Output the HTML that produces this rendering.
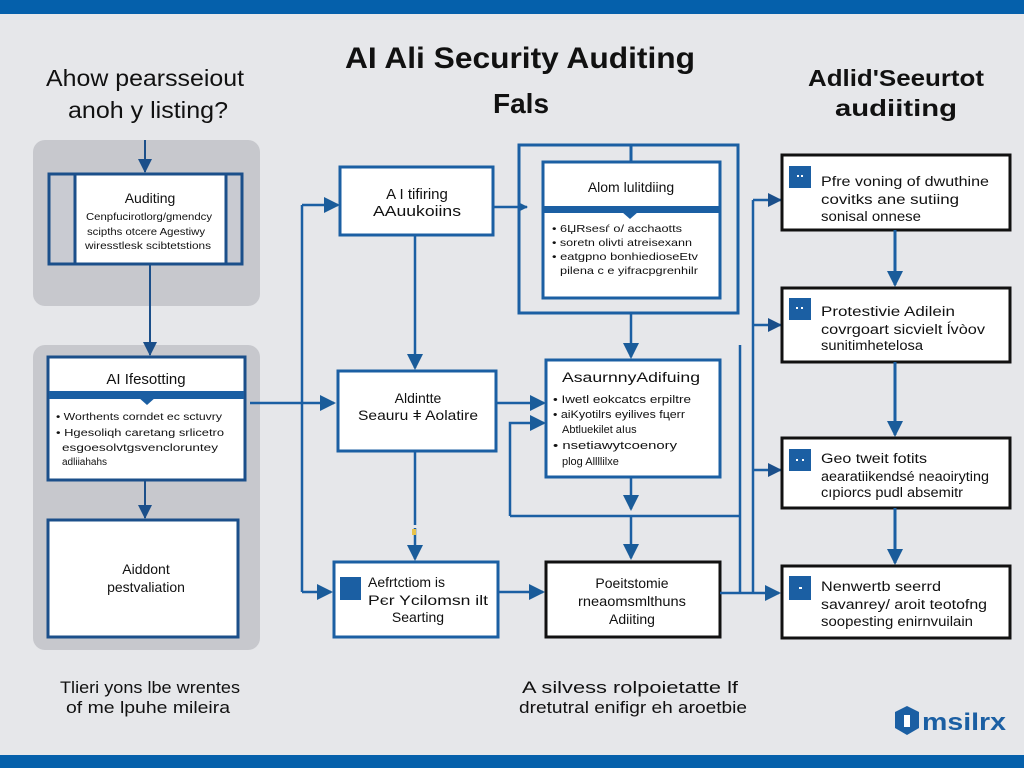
<!DOCTYPE html>
<html><head><meta charset="utf-8"><style>
html,body{margin:0;padding:0;background:#e6e7ea;}
svg{display:block}
text{font-family:"Liberation Sans",sans-serif;fill:#111}
</style></head><body>
<svg width="1024" height="768" viewBox="0 0 1024 768" xmlns="http://www.w3.org/2000/svg">
<defs>
<marker id="a" markerWidth="8" markerHeight="8" refX="7" refY="4" orient="auto" markerUnits="userSpaceOnUse" viewBox="0 0 8 8"><path d="M0,0 L8,4 L0,8 z" fill="#1a5c9a"/></marker>
<marker id="c" markerWidth="14" markerHeight="14" refX="13" refY="7" orient="auto" markerUnits="userSpaceOnUse" viewBox="0 0 14 14"><path d="M0,0 L14,7 L0,14 z" fill="#1b4f8a"/></marker>
<marker id="b" markerWidth="16" markerHeight="16" refX="14" refY="8" orient="auto" markerUnits="userSpaceOnUse" viewBox="0 0 16 16"><path d="M0,0 L16,8 L0,16 z" fill="#1a5c9a"/></marker>
</defs>
<rect width="1024" height="768" fill="#e6e7ea"/>
<rect x="0" y="0" width="1024" height="14" fill="#0560ab"/>
<rect x="0" y="755" width="1024" height="13" fill="#0560ab"/>

<text x="520" y="68" font-size="30" text-anchor="middle" font-weight="bold" textLength="350" lengthAdjust="spacingAndGlyphs">AI Ali Security Auditing</text>
<text x="521" y="113" font-size="28" text-anchor="middle" font-weight="bold">Fals</text>
<text x="145" y="86" font-size="23" text-anchor="middle" textLength="198" lengthAdjust="spacingAndGlyphs">Ahow pearsseiout</text>
<text x="148" y="118" font-size="23" text-anchor="middle" textLength="160" lengthAdjust="spacingAndGlyphs">anoh y listing?</text>
<text x="896" y="86" font-size="23" text-anchor="middle" font-weight="bold" textLength="176" lengthAdjust="spacingAndGlyphs">Adlid'Seeurtot</text>
<text x="896" y="116" font-size="23" text-anchor="middle" font-weight="bold" textLength="122" lengthAdjust="spacingAndGlyphs">audiiting</text>

<rect x="33" y="140" width="227" height="166" rx="12" fill="#c7c8cd"/>
<rect x="33" y="345" width="227" height="305" rx="12" fill="#c7c8cd"/>

<rect x="49" y="174" width="193" height="90" fill="#c9cbd2" stroke="#1b4f8a" stroke-width="3"/>
<rect x="75" y="174" width="151" height="90" fill="#fff" stroke="#1b4f8a" stroke-width="3"/>
<text x="150" y="203" font-size="14" text-anchor="middle">Auditing</text>
<text x="149" y="220" font-size="10.5" text-anchor="middle" textLength="126" lengthAdjust="spacingAndGlyphs">Cenpfucirotlorg/gmendcy</text>
<text x="146" y="235" font-size="10.5" text-anchor="middle" textLength="118" lengthAdjust="spacingAndGlyphs">scipths otcere Agestiwy</text>
<text x="148" y="249" font-size="10.5" text-anchor="middle" textLength="126" lengthAdjust="spacingAndGlyphs">wiresstlesk scibtetstions</text>
<line x1="145" y1="140" x2="145" y2="172" stroke="#1b4f8a" stroke-width="2" marker-end="url(#c)"/>
<line x1="150" y1="264" x2="150" y2="355" stroke="#1b4f8a" stroke-width="2" marker-end="url(#c)"/>

<rect x="48" y="357" width="197" height="123" fill="#fff" stroke="#1b4f8a" stroke-width="3"/>
<text x="146" y="384" font-size="15" text-anchor="middle">AI Ifesotting</text>
<rect x="49" y="391" width="195" height="8" fill="#1b5fa3"/>
<path d="M138,397 L147,405 L156,397 z" fill="#1b5fa3"/>
<text x="56" y="420" font-size="10" textLength="166" lengthAdjust="spacingAndGlyphs">• Worthents corndet ec sctuvry</text>
<text x="56" y="436" font-size="10" textLength="168" lengthAdjust="spacingAndGlyphs">• Hgesoliqh caretang srlicetro</text>
<text x="62" y="451" font-size="10" textLength="156" lengthAdjust="spacingAndGlyphs">esgoesolvtgsvencloruntey</text>
<text x="62" y="465" font-size="10">adliiahahs</text>
<line x1="145" y1="480" x2="145" y2="518" stroke="#1b4f8a" stroke-width="2" marker-end="url(#c)"/>

<rect x="48" y="520" width="190" height="117" fill="#fff" stroke="#1b4f8a" stroke-width="3"/>
<text x="146" y="574" font-size="14" text-anchor="middle">Aiddont</text>
<text x="146" y="592" font-size="14" text-anchor="middle">pestvaliation</text>

<line x1="302" y1="592" x2="302" y2="205" stroke="#1b5fa3" stroke-width="2.5"/>
<line x1="302" y1="205" x2="338" y2="205" stroke="#1b5fa3" stroke-width="2.5" marker-end="url(#b)"/>
<line x1="302" y1="592" x2="331" y2="592" stroke="#1b5fa3" stroke-width="2.5" marker-end="url(#b)"/>
<line x1="250" y1="403" x2="334" y2="403" stroke="#1b5fa3" stroke-width="2.5" marker-end="url(#b)"/>

<rect x="340" y="167" width="153" height="68" fill="#fff" stroke="#1b5fa3" stroke-width="3"/>
<text x="417" y="199" font-size="15" text-anchor="middle">A I tifiring</text>
<text x="417" y="216" font-size="15" text-anchor="middle" textLength="88" lengthAdjust="spacingAndGlyphs">AAuukoiins</text>
<line x1="415" y1="235" x2="415" y2="368" stroke="#1b5fa3" stroke-width="2.5" marker-end="url(#b)"/>

<rect x="338" y="371" width="158" height="80" fill="#fff" stroke="#1b5fa3" stroke-width="3"/>
<text x="418" y="403" font-size="14" text-anchor="middle">Aldintte</text>
<text x="418" y="420" font-size="14" text-anchor="middle" textLength="120" lengthAdjust="spacingAndGlyphs">Seauru ǂ Aolatire</text>
<line x1="415" y1="451" x2="415" y2="525" stroke="#1b5fa3" stroke-width="2.5"/>
<line x1="415" y1="528" x2="415" y2="559" stroke="#1b5fa3" stroke-width="2.5" marker-end="url(#b)"/>
<rect x="412" y="529" width="4" height="6" fill="#e8c34a"/>

<rect x="334" y="562" width="164" height="75" fill="#fff" stroke="#1b5fa3" stroke-width="3"/>
<rect x="340" y="577" width="21" height="23" fill="#1b5fa3"/>
<text x="368" y="587" font-size="14">Aefrtctiom is</text>
<text x="368" y="605" font-size="14" textLength="120" lengthAdjust="spacingAndGlyphs">Pєr Ycilomsn ilt</text>
<text x="418" y="622" font-size="14" text-anchor="middle">Searting</text>
<line x1="498" y1="592" x2="543" y2="592" stroke="#1b5fa3" stroke-width="2.5" marker-end="url(#b)"/>

<line x1="493" y1="207" x2="527" y2="207" stroke="#1b5fa3" stroke-width="2.5" marker-end="url(#a)"/>
<rect x="519" y="145" width="219" height="168" fill="none" stroke="#1b5fa3" stroke-width="3"/>
<line x1="631" y1="145" x2="631" y2="162" stroke="#1b5fa3" stroke-width="3"/>
<rect x="543" y="162" width="177" height="136" fill="#fff" stroke="#1b5fa3" stroke-width="3"/>
<text x="631" y="192" font-size="14" text-anchor="middle">Alom lulitdiing</text>
<rect x="544" y="206" width="175" height="7" fill="#1b5fa3"/>
<path d="M622,212 L630,219 L638,212 z" fill="#1b5fa3"/>
<text x="552" y="232" font-size="10.5" textLength="130" lengthAdjust="spacingAndGlyphs">• 6ЏRsesѓ o/ acchaotts</text>
<text x="552" y="246" font-size="10.5" textLength="140" lengthAdjust="spacingAndGlyphs">• soretn olivti atreisexann</text>
<text x="552" y="260" font-size="10.5" textLength="146" lengthAdjust="spacingAndGlyphs">• eatgpno bonhiedioseEtv</text>
<text x="560" y="274" font-size="10.5" textLength="138" lengthAdjust="spacingAndGlyphs">pilena c e yifracpgrenhilr</text>
<line x1="631" y1="313" x2="631" y2="357" stroke="#1b5fa3" stroke-width="2.5" marker-end="url(#b)"/>

<line x1="496" y1="403" x2="544" y2="403" stroke="#1b5fa3" stroke-width="2.5" marker-end="url(#b)"/>
<polyline points="510,516 510,423 544,423" fill="none" stroke="#1b5fa3" stroke-width="2.5" marker-end="url(#b)"/>
<polyline points="510,516 740,516" fill="none" stroke="#1b5fa3" stroke-width="2.5"/>
<line x1="740" y1="345" x2="740" y2="592" stroke="#1b5fa3" stroke-width="2.5"/>

<rect x="546" y="360" width="174" height="117" fill="#fff" stroke="#1b5fa3" stroke-width="3"/>
<text x="631" y="382" font-size="13.5" text-anchor="middle" textLength="138" lengthAdjust="spacingAndGlyphs">AsaurnnyAdifuing</text>
<text x="553" y="403" font-size="11" textLength="138" lengthAdjust="spacingAndGlyphs">• Iwetl eokcatcs erpiltre</text>
<text x="553" y="418" font-size="11" textLength="132" lengthAdjust="spacingAndGlyphs">• aiKyotilrs eyilives fцеrr</text>
<text x="562" y="433" font-size="11">Abtluekilet aIus</text>
<text x="553" y="449" font-size="11" textLength="124" lengthAdjust="spacingAndGlyphs">• nsetiawytcoenory</text>
<text x="562" y="465" font-size="11">plog Allllilxe</text>
<line x1="631" y1="477" x2="631" y2="509" stroke="#1b5fa3" stroke-width="2.5" marker-end="url(#b)"/>
<line x1="631" y1="516" x2="631" y2="558" stroke="#1b5fa3" stroke-width="2.5" marker-end="url(#b)"/>

<rect x="546" y="562" width="174" height="75" fill="#fff" stroke="#111" stroke-width="3"/>
<text x="632" y="588" font-size="14" text-anchor="middle">Poeitstomie</text>
<text x="632" y="606" font-size="14" text-anchor="middle" textLength="108" lengthAdjust="spacingAndGlyphs">rneaomsmlthuns</text>
<text x="632" y="624" font-size="14" text-anchor="middle">Adiiting</text>
<line x1="720" y1="593" x2="779" y2="593" stroke="#1b5fa3" stroke-width="2.5" marker-end="url(#b)"/>

<line x1="753" y1="200" x2="753" y2="593" stroke="#1b5fa3" stroke-width="2.5"/>
<line x1="753" y1="200" x2="781" y2="200" stroke="#1b5fa3" stroke-width="2.5" marker-end="url(#c)"/>
<line x1="753" y1="325" x2="781" y2="325" stroke="#1b5fa3" stroke-width="2.5" marker-end="url(#c)"/>
<line x1="753" y1="470" x2="781" y2="470" stroke="#1b5fa3" stroke-width="2.5" marker-end="url(#c)"/>

<g font-size="13.5">
<rect x="782" y="155" width="228" height="75" fill="#fff" stroke="#111" stroke-width="3"/>
<rect x="789" y="166" width="22" height="22" fill="#1b5fa3"/>
<rect x="797" y="175" width="2" height="2" fill="#fff"/><rect x="801" y="175" width="2" height="2" fill="#fff"/>
<text x="821" y="186" textLength="168" lengthAdjust="spacingAndGlyphs">Pfre voning of dwuthine</text>
<text x="821" y="204" textLength="138" lengthAdjust="spacingAndGlyphs">covitks ane sutiing</text>
<text x="821" y="221" textLength="100" lengthAdjust="spacingAndGlyphs">sonisal onnese</text>
<line x1="895" y1="230" x2="895" y2="285" stroke="#1b5fa3" stroke-width="3" marker-end="url(#b)"/>

<rect x="782" y="288" width="228" height="74" fill="#fff" stroke="#111" stroke-width="3"/>
<rect x="789" y="298" width="22" height="22" fill="#1b5fa3"/>
<rect x="796" y="307" width="2" height="2" fill="#fff"/><rect x="801" y="307" width="2" height="2" fill="#fff"/>
<text x="821" y="316" textLength="134" lengthAdjust="spacingAndGlyphs">Protestivie Adilein</text>
<text x="821" y="334" textLength="164" lengthAdjust="spacingAndGlyphs">covrgoart sicvielt ĺvòov</text>
<text x="821" y="350" textLength="102" lengthAdjust="spacingAndGlyphs">sunitimhetelosa</text>
<line x1="895" y1="362" x2="895" y2="435" stroke="#1b5fa3" stroke-width="3" marker-end="url(#b)"/>

<rect x="782" y="438" width="228" height="70" fill="#fff" stroke="#111" stroke-width="3"/>
<rect x="789" y="449" width="22" height="22" fill="#1b5fa3"/>
<rect x="796" y="459" width="2" height="2" fill="#fff"/><rect x="802" y="459" width="2" height="2" fill="#fff"/>
<text x="821" y="463" textLength="106" lengthAdjust="spacingAndGlyphs">Geo tweit fotits</text>
<text x="821" y="481" textLength="168" lengthAdjust="spacingAndGlyphs">aearatiikendsé neaoiryting</text>
<text x="821" y="497" textLength="142" lengthAdjust="spacingAndGlyphs">cıpiorcs pudl absemitr</text>
<line x1="895" y1="508" x2="895" y2="563" stroke="#1b5fa3" stroke-width="3" marker-end="url(#b)"/>

<rect x="782" y="566" width="228" height="72" fill="#fff" stroke="#111" stroke-width="3"/>
<rect x="789" y="576" width="22" height="24" fill="#1b5fa3"/>
<rect x="799" y="587" width="3" height="2" fill="#fff"/>
<text x="821" y="591" textLength="120" lengthAdjust="spacingAndGlyphs">Nenwertb seerrd</text>
<text x="821" y="609" textLength="166" lengthAdjust="spacingAndGlyphs">savanrey/ aroit teotofng</text>
<text x="821" y="626" textLength="152" lengthAdjust="spacingAndGlyphs">soopesting enirnvuilain</text>
</g>

<text x="150" y="693" font-size="17" text-anchor="middle" textLength="180" lengthAdjust="spacingAndGlyphs">Tlieri yons lbe wrentes</text>
<text x="148" y="713" font-size="17" text-anchor="middle" textLength="164" lengthAdjust="spacingAndGlyphs">of me lpuhe mileira</text>
<text x="630" y="693" font-size="17" text-anchor="middle" textLength="216" lengthAdjust="spacingAndGlyphs">A silvess rolpoietatte lf</text>
<text x="633" y="713" font-size="17" text-anchor="middle" textLength="228" lengthAdjust="spacingAndGlyphs">dretutral enifigr eh aroetbie</text>

<path d="M907,706 L919,712 L919,728 L907,735 L895,728 L895,712 z" fill="#1b5fa3"/>
<rect x="904" y="715" width="6" height="12" fill="#fff"/>
<text x="922" y="730" font-size="24" font-weight="bold" style="fill:#1b5fa3" textLength="84" lengthAdjust="spacingAndGlyphs">msilrx</text>
</svg>
</body></html>
